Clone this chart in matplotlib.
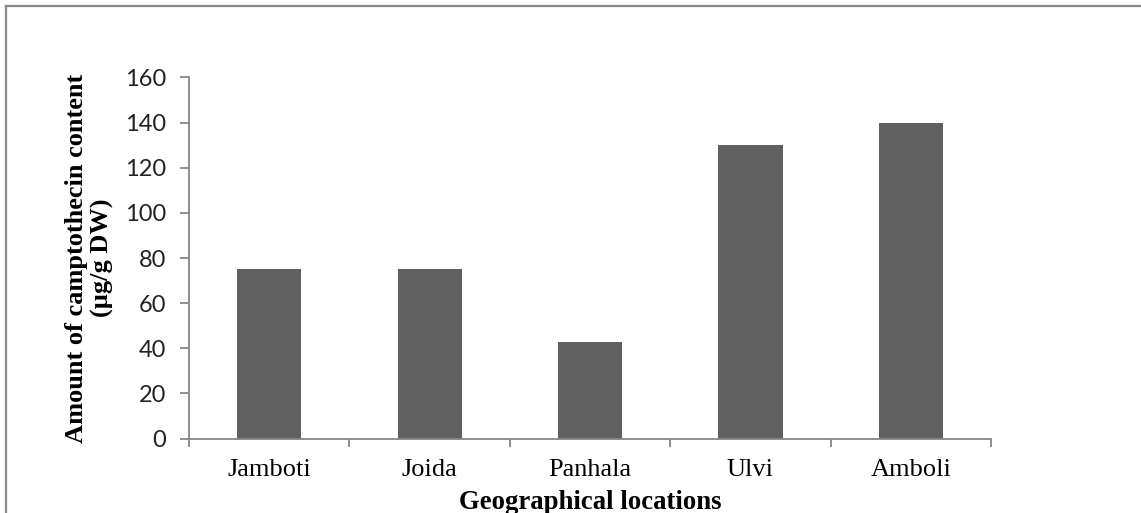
import matplotlib.pyplot as plt
from matplotlib.lines import Line2D

locations = ["Jamboti", "Joida", "Panhala", "Ulvi", "Amboli"]
camptothecin = [75, 75, 43, 130, 140]
y_ticks = [0, 20, 40, 60, 80, 100, 120, 140, 160]

axis_gray = "#868686"
bar_color = "#606060"

fig = plt.figure(figsize=(11.41, 5.13), dpi=100)
ax = fig.add_axes([0.1656, 0.145, 0.703, 0.704])

x = range(len(locations))
ax.bar(x, camptothecin, width=0.4, color=bar_color, zorder=2)

ax.set_xlim(-0.5, len(locations) - 0.5)
ax.set_ylim(0, 160)
ax.set_yticks(y_ticks)
ax.set_yticklabels([str(v) for v in y_ticks], family="Lato", fontsize=17, color="#222222")

# category names centred, tick marks on the category boundaries
ax.set_xticks([i - 0.5 for i in range(len(locations) + 1)])
ax.set_xticklabels([])
ax.set_xticks(list(x), minor=True)
ax.set_xticklabels(locations, minor=True, family="Liberation Serif", fontsize=19)
ax.tick_params(axis="x", which="minor", length=0, pad=15)
ax.tick_params(axis="x", which="major", length=6, width=1.3, color=axis_gray, direction="out")
ax.tick_params(axis="y", length=6.5, width=1.3, color=axis_gray, direction="out", pad=10)

for side in ["top", "right"]:
    ax.spines[side].set_visible(False)
for side in ["left", "bottom"]:
    ax.spines[side].set_color(axis_gray)
    ax.spines[side].set_linewidth(1.3)

ax.set_xlabel("Geographical locations", family="Liberation Serif", fontweight="bold",
              fontsize=19.3, labelpad=6)
ax.set_ylabel("Amount of camptothecin content\n(µg/g DW)", family="Liberation Serif",
              fontweight="bold", fontsize=19, labelpad=8, linespacing=1.12)

# gray frame around the chart area (left and top edges visible)
fx, fy = 6 / 1141, 1 - 6 / 513
fig.lines.append(Line2D([fx, fx], [-0.1, fy], transform=fig.transFigure, color="#8a8a8a", lw=1.6))
fig.lines.append(Line2D([fx, 1.1], [fy, fy], transform=fig.transFigure, color="#8a8a8a", lw=1.6))

fig.savefig("out.png", dpi=100)
